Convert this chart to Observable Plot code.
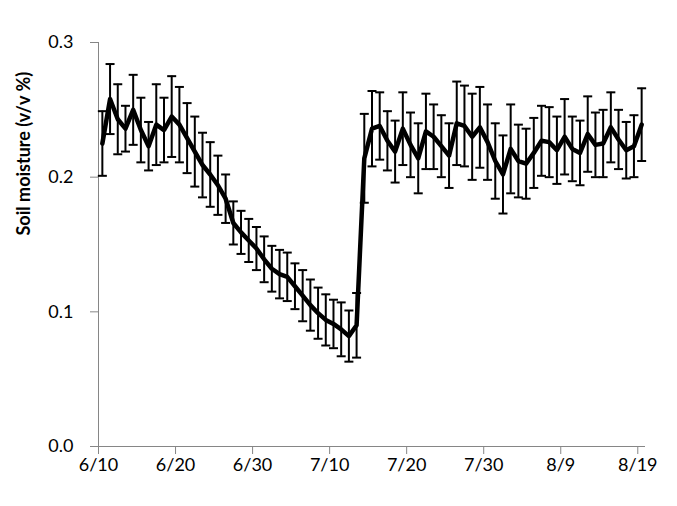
<!DOCTYPE html>
<html><head><meta charset="utf-8">
<script src="https://cdn.jsdelivr.net/npm/d3@7"></script>
<script src="https://cdn.jsdelivr.net/npm/@observablehq/plot@0.6"></script>
<style>body{margin:0;background:#fff;}</style>
</head><body><div id="chart"></div>
<script>
const year = 2012;
const startDate = "2012-06-10";
const moisture = [
  0.225, 0.258, 0.243, 0.236, 0.250, 0.235, 0.223, 0.239, 0.235, 0.245,
  0.239, 0.229, 0.219, 0.209, 0.202, 0.194, 0.184, 0.166, 0.159, 0.153,
  0.147, 0.139, 0.132, 0.128, 0.126, 0.119, 0.112, 0.105, 0.099, 0.094,
  0.091, 0.087, 0.082, 0.090, 0.214, 0.236, 0.238, 0.227, 0.219, 0.236,
  0.224, 0.214, 0.234, 0.230, 0.223, 0.216, 0.240, 0.238, 0.230, 0.237,
  0.226, 0.212, 0.202, 0.221, 0.212, 0.210, 0.218, 0.227, 0.226, 0.220,
  0.230, 0.221, 0.218, 0.232, 0.224, 0.225, 0.237, 0.228, 0.220, 0.223,
  0.239
];
const stdErr = [
  0.024, 0.026, 0.026, 0.017, 0.026, 0.024, 0.018, 0.030, 0.024, 0.030,
  0.028, 0.026, 0.026, 0.024, 0.024, 0.022, 0.018, 0.016, 0.016, 0.016,
  0.016, 0.017, 0.017, 0.018, 0.018, 0.017, 0.019, 0.019, 0.019, 0.019,
  0.018, 0.020, 0.019, 0.024, 0.033, 0.028, 0.025, 0.022, 0.023, 0.027,
  0.024, 0.026, 0.028, 0.024, 0.023, 0.024, 0.031, 0.030, 0.032, 0.030,
  0.028, 0.028, 0.029, 0.033, 0.027, 0.026, 0.026, 0.026, 0.026, 0.025,
  0.028, 0.024, 0.024, 0.028, 0.024, 0.025, 0.026, 0.022, 0.021, 0.023,
  0.027
];
const tickLabels = ["6/10", "6/20", "6/30", "7/10", "7/20", "7/30", "8/9", "8/19"];
const yTicks = [0, 0.1, 0.2, 0.3];
const yLabel = "Soil moisture (v/v %)";

const DAY = 864e5;
const t0 = Date.parse(startDate);
const data = moisture.map((v, i) => ({
  date: new Date(t0 + i * DAY + DAY / 2),
  v, lo: v - stdErr[i], hi: v + stdErr[i]
}));
const tickDates = tickLabels.map(s => {
  const [m, d] = s.split("/").map(Number);
  return new Date(Date.UTC(year, m - 1, d));
});
const labelByTime = new Map(tickDates.map((d, i) => [+d, tickLabels[i]]));
const xDomain = [new Date(t0), new Date(t0 + moisture.length * DAY)];

const capSymbol = {
  draw(ctx, size) {
    const w = Math.sqrt(size);
    ctx.moveTo(-w / 2, 0);
    ctx.lineTo(w / 2, 0);
  }
};
const axisGray = "#868686";
const font = "Lato, 'Open Sans', sans-serif";

const chart = Plot.plot({
  width: 677,
  height: 506,
  marginLeft: 98,
  marginRight: 32,
  marginTop: 42,
  marginBottom: 60,
  style: {fontFamily: font, fontSize: "18px", color: "black", background: "white"},
  x: {type: "utc", domain: xDomain},
  y: {domain: [0, 0.3]},
  marks: [
    Plot.ruleY([0], {stroke: axisGray, strokeWidth: 1}),
    Plot.ruleX([xDomain[0]], {stroke: axisGray, strokeWidth: 1}),
    Plot.axisY({ticks: yTicks, tickSize: 8, tickPadding: 17, stroke: axisGray, fill: "black",
      tickFormat: d => d.toFixed(1), label: null, fontSize: 18}),
    Plot.axisX({ticks: tickDates, tickSize: 8, tickPadding: 4, stroke: axisGray, fill: "black",
      tickFormat: d => labelByTime.get(+d), label: null, fontSize: 18}),
    Plot.ruleX(data, {x: "date", y1: "lo", y2: "hi", stroke: "black", strokeWidth: 2}),
    Plot.dot(data, {x: "date", y: "hi", symbol: capSymbol, r: 9 / Math.sqrt(Math.PI), stroke: "black", strokeWidth: 2, fill: "none"}),
    Plot.dot(data, {x: "date", y: "lo", symbol: capSymbol, r: 9 / Math.sqrt(Math.PI), stroke: "black", strokeWidth: 2, fill: "none"}),
    Plot.line(data, {x: "date", y: "v", stroke: "black", strokeWidth: 4.5, strokeLinejoin: "round"}),
    Plot.text([yLabel], {text: d => d, frameAnchor: "left", dx: -74, dy: -9, rotate: -90,
      fontWeight: "bold", fontSize: 18, fill: "black"})
  ]
});
document.getElementById("chart").appendChild(chart);
</script>
</body></html>
